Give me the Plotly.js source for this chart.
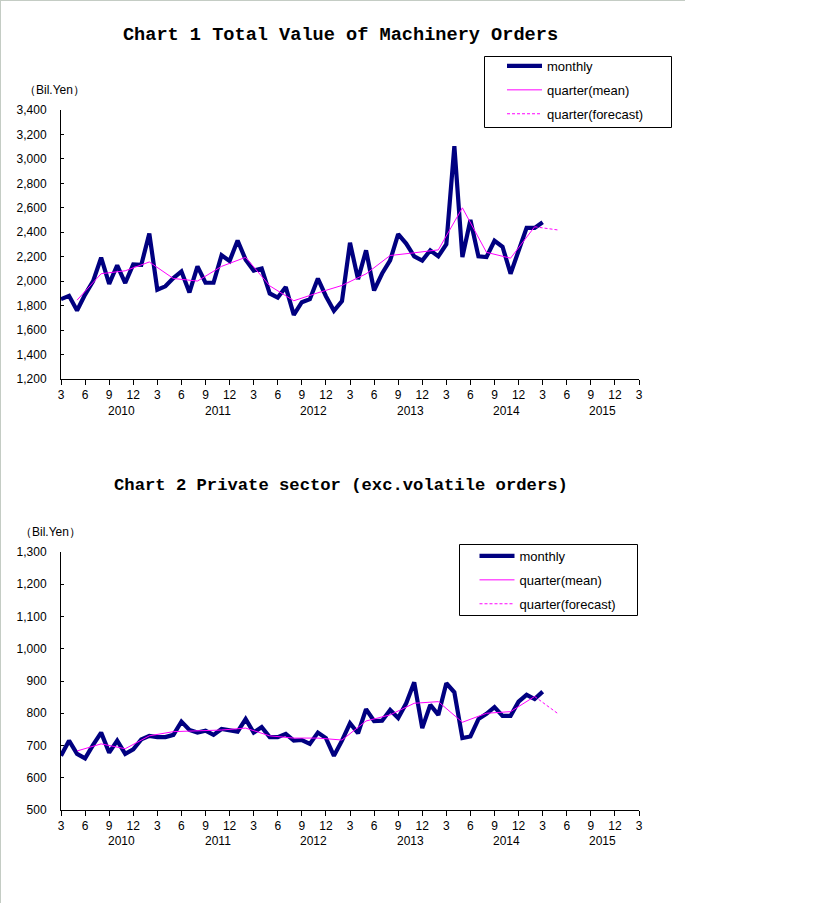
<!DOCTYPE html>
<html>
<head>
<meta charset="utf-8">
<script src="https://cdn.plot.ly/plotly-3.0.1.min.js"></script>
<style>html,body{margin:0;padding:0;background:#fff;}#chart{width:819px;height:903px;}</style>
</head>
<body>
<div id="chart"></div>
<script>
// Monthly index 0 = March 2010 ... 60 = March 2015
const totalMonthly = [1853,1880,1760,1890,2000,2192,1978,2130,1985,2137,
  2133,2390,1930,1958,2025,2080,1908,2121,1987,1987,
  2212,2165,2333,2176,2087,2103,1900,1866,1952,1725,
  1828,1853,2021,1877,1758,1837,2314,2017,2252,1924,
  2063,2170,2385,2308,2203,2169,2252,2203,2302,3105,
  2197,2500,2203,2197,2331,2282,2061,2250,2436,2436,2482];
const totalQuarter = [1845,2061,2085,2157,2022,2001,2121,2195,1962,1840,
  1905,1965,2060,2210,2232,2256,2600,2236,2188,2445];
const totalForecast = [2445,2418];

const privMonthly = [668,715,674,660,702,740,678,715,674,688,
  719,730,726,726,733,774,748,740,746,733,
  751,748,743,782,740,757,726,726,736,715,
  717,705,740,723,668,715,769,738,813,776,
  777,810,785,831,896,754,826,795,893,865,
  723,728,782,798,819,792,792,836,857,844,867];
const privQuarter = [683,705,690,730,743,745,748,754,730,723,
  723,717,776,795,831,836,772,800,805,852];
const privForecast = [852,797];

const monthTickLabels = ["3","6","9","12","3","6","9","12","3","6","9","12","3","6","9","12","3","6","9","12","3","6","9","12","3"];
const yearLabels = ["2010","2011","2012","2013","2014","2015"];
const seriesNames = ["monthly","quarter(mean)","quarter(forecast)"];

// positions on the month axis
const monthX = totalMonthly.map((_, i) => i);
const quarterX = totalQuarter.map((_, i) => 2 + 3 * i);
const forecastX = [59, 62];
const tickVals = monthTickLabels.map((_, i) => 3 * i);
const yearX = yearLabels.map((_, i) => 7.5 + 12 * i);

const W = 819, H = 903;
const px = v => v / W, py = v => 1 - v / H;
const NAVY = '#000080', MAG = '#ff00ff';
const FONT = 'Liberation Sans, Arial, sans-serif';

function traces(m, q, f, xa, ya, leg) {
  return [
    {x: monthX, y: m, xaxis: xa, yaxis: ya, type: 'scatter', mode: 'lines', name: seriesNames[0],
     line: {color: NAVY, width: 4.2}, legend: leg, legendgroup: leg + 'a'},
    {x: quarterX, y: q, xaxis: xa, yaxis: ya, type: 'scatter', mode: 'lines', name: seriesNames[1],
     line: {color: MAG, width: 1}, legend: leg, legendgroup: leg + 'b'},
    {x: forecastX, y: f, xaxis: xa, yaxis: ya, type: 'scatter', mode: 'lines', name: seriesNames[2],
     line: {color: MAG, width: 1, dash: '3px,2px'}, legend: leg, legendgroup: leg + 'c'}
  ];
}

const data = traces(totalMonthly, totalQuarter, totalForecast, 'x', 'y', 'legend')
  .concat(traces(privMonthly, privQuarter, privForecast, 'x2', 'y2', 'legend2'));

const xCommon = {
  range: [0, 72], tickmode: 'array', tickvals: tickVals, ticktext: monthTickLabels,
  ticks: 'outside', ticklen: 5, tickcolor: '#000', tickwidth: 1,
  showline: true, linecolor: '#000', linewidth: 1, showgrid: false, zeroline: false,
  tickfont: {family: FONT, size: 12, color: '#000'}, domain: [px(61), px(639)], fixedrange: true
};
const yCommon = {
  ticks: 'inside', ticklen: 3, tickcolor: '#000', tickwidth: 1,
  showline: true, linecolor: '#000', linewidth: 1, showgrid: false, zeroline: false,
  tickformat: ',d', ticklabelstandoff: 11,
  tickfont: {family: FONT, size: 12, color: '#000'}, fixedrange: true
};

const legCommon = {
  bgcolor: 'rgba(0,0,0,0)', borderwidth: 0,
  font: {family: FONT, size: 13, color: '#000'},
  xanchor: 'left', yanchor: 'top', traceorder: 'grouped', tracegroupgap: 4, itemwidth: 35
};

const annotations = [];
yearLabels.forEach((t, i) => {
  annotations.push({text: t, x: yearX[i], xref: 'x', y: py(411), yref: 'paper', showarrow: false,
    font: {family: FONT, size: 12, color: '#000'}, xanchor: 'center', yanchor: 'middle'});
  annotations.push({text: t, x: yearX[i], xref: 'x2', y: py(841), yref: 'paper', showarrow: false,
    font: {family: FONT, size: 12, color: '#000'}, xanchor: 'center', yanchor: 'middle'});
});
annotations.push({text: '（Bil.Yen）', x: px(22), y: py(90), xref: 'paper', yref: 'paper', showarrow: false,
  xanchor: 'left', yanchor: 'middle', font: {family: FONT, size: 12, color: '#000'}});
annotations.push({text: '（Bil.Yen）', x: px(18), y: py(532), xref: 'paper', yref: 'paper', showarrow: false,
  xanchor: 'left', yanchor: 'middle', font: {family: FONT, size: 12, color: '#000'}});
annotations.push({text: 'Chart 2 Private sector (exc.volatile orders)', x: px(341), y: py(485), xref: 'paper', yref: 'paper',
  showarrow: false, xanchor: 'center', yanchor: 'middle',
  font: {family: 'Liberation Mono, Courier New, monospace', size: 17.2, color: '#000', weight: 'bold'}});

const layout = {
  width: W, height: H, margin: {l: 0, r: 0, t: 0, b: 0},
  paper_bgcolor: '#fff', plot_bgcolor: 'rgba(0,0,0,0)',
  title: {text: 'Chart 1 Total Value of Machinery Orders', x: px(340.5), xref: 'paper', xanchor: 'center',
    y: py(33), yref: 'container', yanchor: 'middle',
    font: {family: 'Liberation Mono, Courier New, monospace', size: 18.6, color: '#000', weight: 'bold'}},
  xaxis: Object.assign({}, xCommon, {anchor: 'y'}),
  yaxis: Object.assign({}, yCommon, {anchor: 'x', domain: [py(379), py(110)], range: [1200, 3400], dtick: 200}),
  xaxis2: Object.assign({}, xCommon, {anchor: 'y2'}),
  yaxis2: Object.assign({}, yCommon, {anchor: 'x2', domain: [py(810), py(552)], range: [500, 1300], dtick: 100}),
  legend: Object.assign({}, legCommon, {x: px(502), y: py(51)}),
  legend2: Object.assign({}, legCommon, {x: px(474.5), y: py(541)}),
  annotations: annotations,
  shapes: [
    {type: 'line', xref: 'paper', yref: 'paper', x0: px(0.5), x1: px(0.5), y0: 0, y1: 1, line: {color: '#c4ccc4', width: 1}},
    {type: 'line', xref: 'paper', yref: 'paper', x0: 0, x1: px(685), y0: py(0.5), y1: py(0.5), line: {color: '#c4ccc4', width: 1}},
    {type: 'rect', xref: 'paper', yref: 'paper', x0: px(484.5), x1: px(671.5), y0: py(56.5), y1: py(127.5),
     fillcolor: '#fff', line: {color: '#000', width: 1}, layer: 'below'},
    {type: 'rect', xref: 'paper', yref: 'paper', x0: px(459.5), x1: px(637.5), y0: py(544.5), y1: py(615.5),
     fillcolor: '#fff', line: {color: '#000', width: 1}, layer: 'below'}
  ],
  showlegend: true
};

Plotly.newPlot('chart', data, layout, {displayModeBar: false, staticPlot: true});
</script>
</body>
</html>
